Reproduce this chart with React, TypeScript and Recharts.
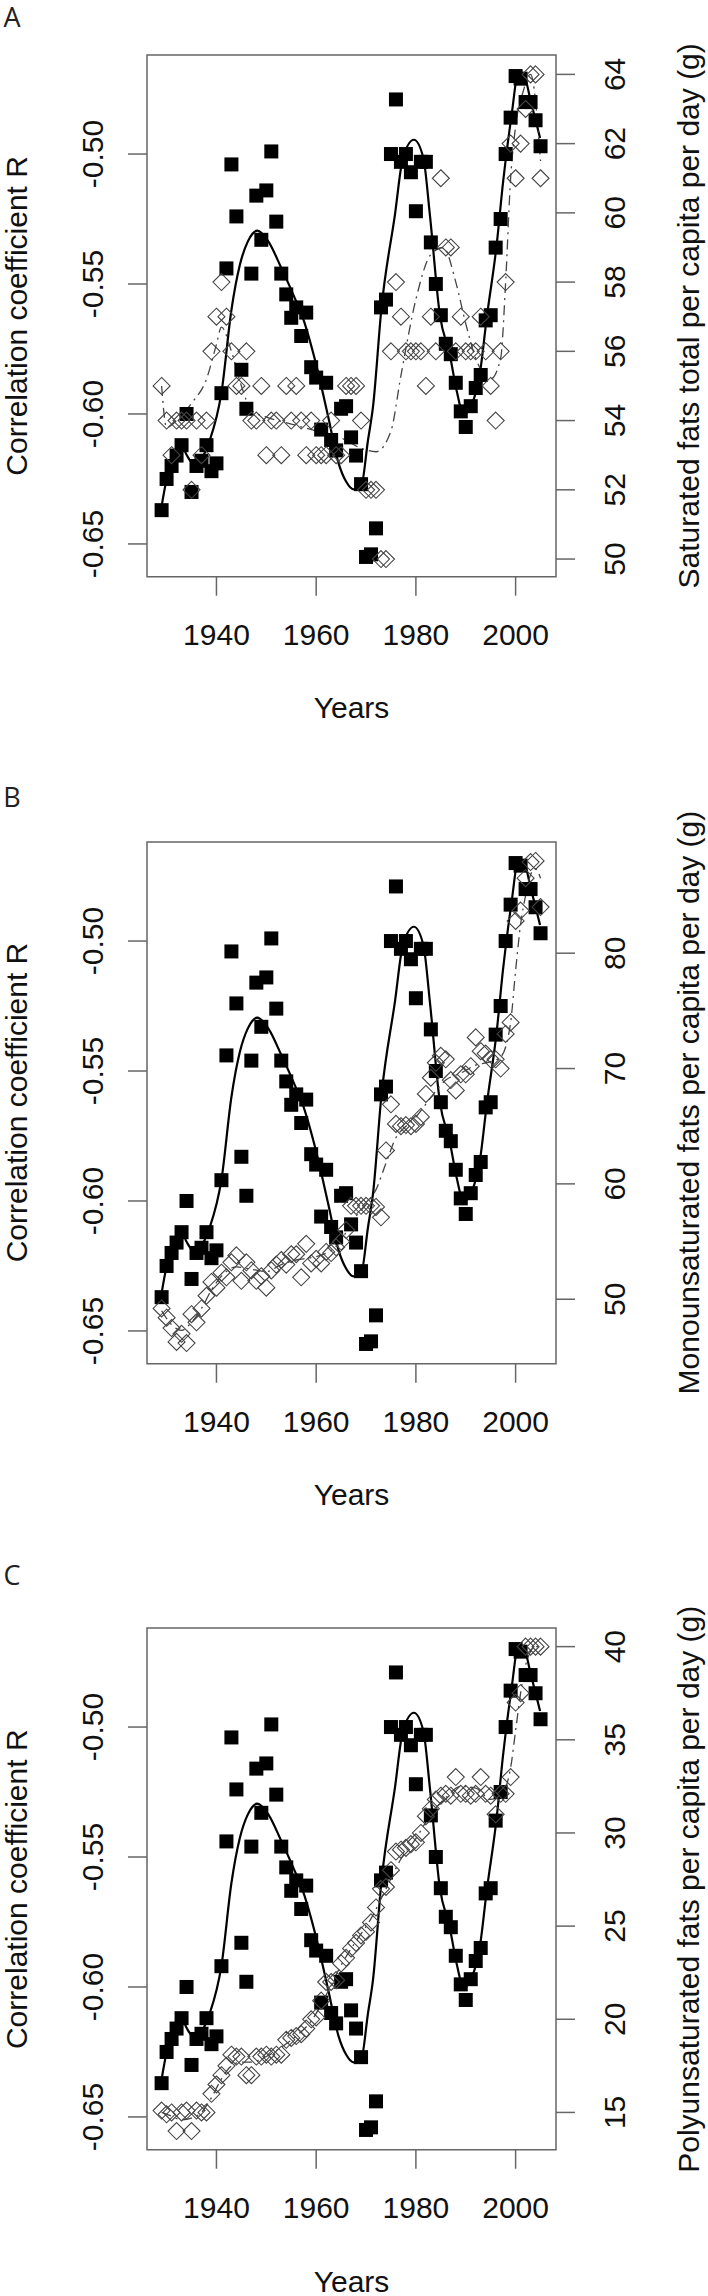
import React from "react";
import { ComposedChart, Scatter, Line, XAxis, YAxis, ReferenceArea } from "recharts";

// years of the annual series (same for all three panels)
const YEARS = [
    1929, 1930, 1931, 1932, 1933, 1934, 1935, 1936, 1937, 1938,
    1939, 1940, 1941, 1942, 1943, 1944, 1945, 1946, 1947, 1948,
    1949, 1950, 1951, 1952, 1953, 1954, 1955, 1956, 1957, 1958,
    1959, 1960, 1961, 1962, 1963, 1964, 1965, 1966, 1967, 1968,
    1969, 1970, 1971, 1972, 1973, 1974, 1975, 1976, 1977, 1978,
    1979, 1980, 1981, 1982, 1983, 1984, 1985, 1986, 1987, 1988,
    1989, 1990, 1991, 1992, 1993, 1994, 1995, 1996, 1997, 1998,
    1999, 2000, 2001, 2002, 2003, 2004, 2005,
];

// correlation coefficient R (black squares)
const CORR_R = [
    -0.637, -0.625, -0.62, -0.616, -0.612, -0.6, -0.63, -0.62, -0.618, -0.612,
    -0.622, -0.619, -0.592, -0.544, -0.504, -0.524, -0.583, -0.598, -0.546, -0.516,
    -0.533, -0.514, -0.499, -0.526, -0.546, -0.554, -0.563, -0.559, -0.57, -0.561,
    -0.582, -0.586, -0.606, -0.588, -0.61, -0.614, -0.598, -0.597, -0.609, -0.616,
    -0.627, -0.655, -0.654, -0.644, -0.559, -0.556, -0.5, -0.479, -0.503, -0.5,
    -0.507, -0.522, -0.503, -0.503, -0.534, -0.55, -0.562, -0.573, -0.577, -0.588,
    -0.599, -0.605, -0.597, -0.59, -0.585, -0.564, -0.562, -0.536, -0.525, -0.5,
    -0.486, -0.47, -0.471, -0.48, -0.48, -0.487, -0.497,
];

// fitted curve of R (solid line)
const R_FIT_YEARS = [
    1929, 1930, 1931, 1933, 1934, 1935.3, 1937, 1938.7, 1941, 1943,
    1944.7, 1946.3, 1948.2, 1950.4, 1953, 1956, 1957.1, 1960, 1962.4, 1964.5,
    1966, 1967.5, 1969, 1970.4, 1971.4, 1973.1, 1975.8, 1977.4, 1979.6, 1981.5,
    1982.8, 1984.8, 1986.8, 1988.2, 1989.6, 1991.2, 1992.8, 1994.2, 1996.2, 1997.5,
    1999.2, 2000.5, 2001.5, 2003.2, 2004.9,
];
const R_FIT = [
    -0.6355, -0.6253, -0.6202, -0.6119, -0.6157, -0.6189, -0.617, -0.6099, -0.5918, -0.56,
    -0.5426, -0.5336, -0.5295, -0.5336, -0.5438, -0.5567, -0.5618, -0.581, -0.601, -0.619,
    -0.626, -0.629, -0.628, -0.61, -0.5972, -0.5592, -0.5233, -0.5015, -0.4945, -0.5015,
    -0.5233, -0.5618, -0.5772, -0.5913, -0.6002, -0.5964, -0.5849, -0.5631, -0.5349, -0.5105,
    -0.4849, -0.4695, -0.4695, -0.481, -0.4938,
];

// panel A: saturated fats (g)
const SAT_FAT = [
    55, 54, 53, 54, 54, 54, 52, 54, 53, 54,
    56, 57, 58, 57, 56, 55, 55, 56, 54, 54,
    55, 53, 54, 54, 53, 55, 54, 55, 54, 53,
    54, 53, 53, 53, 54, 53, 53, 55, 55, 55,
    54, 52, 52, 52, 50, 50, 56, 58, 57, 56,
    56, 56, 56, 55, 57, 56, 61, 59, 59, 56,
    57, 56, 56, 56, 57, 56, 55, 54, 56, 58,
    62, 61, 62, 63, 64, 64, 61,
];
const SAT_FIT_YEARS = [
    1929, 1930, 1932, 1935, 1938, 1940, 1941, 1943, 1945, 1947,
    1950, 1955, 1960, 1965, 1969, 1972, 1975, 1977, 1980, 1983,
    1985.5, 1988, 1990, 1992, 1995, 1997, 1998, 1999, 2000, 2001.5,
    2003, 2005,
];
const SAT_FIT = [
    55, 53.8, 54, 54.5, 55.2, 56.2, 56.7, 56, 55, 54.3,
    54.1, 53.9, 53.7, 53.5, 53.2, 53.1, 53.7, 55.3, 57.5, 58.8,
    59, 58, 56.8, 55.8, 55.2, 55.8, 58, 61, 62.5, 63.5,
    64, 61.5,
];

// panel B: monounsaturated fats (g)
const MONO_FAT = [
    49.2, 48.4, 47.5, 46.3, 47, 46.2, 48.7, 48, 49.2, 50.3,
    51.5, 51, 52.3, 51.9, 53.2, 53.8, 51.6, 53.2, 52.5, 51.6,
    52, 51, 52.5, 53, 53.4, 53, 53.9, 53.9, 51.9, 54.8,
    53.1, 53.5, 53.1, 54.1, 54, 54.5, 55, 56, 58.1, 58.1,
    58.1, 58.1, 58.1, 58, 57.1, 62.9, 66.9, 65.2, 65, 65.1,
    65, 65.2, 65.8, 67.8, 69.2, 70.5, 71.1, 70.8, 69, 68.1,
    69.5, 69.5, 70.2, 72.7, 71.5, 71.3, 70.8, 70.8, 70, 73,
    74, 82.8, 83.7, 86.5, 87.9, 88, 84,
];
const MONO_FIT_YEARS = [
    1929, 1931, 1933, 1935, 1937, 1939, 1941, 1944, 1947, 1950,
    1953, 1956, 1959, 1962, 1964, 1966, 1968, 1970, 1972, 1974,
    1976, 1978, 1980, 1983, 1986, 1989, 1992, 1995, 1997, 1999,
    2000, 2001, 2002, 2003, 2004, 2005,
];
const MONO_FIT = [
    49, 47.8, 47.3, 48, 49.2, 50.8, 52, 52.8, 52.6, 52.4,
    53, 53.4, 53.6, 54, 54.6, 55.8, 57.2, 58.2, 59.5, 61.8,
    64, 65, 65.8, 67.5, 69, 69.6, 70.3, 70.6, 71, 74,
    78.5, 82.5, 85, 86.8, 87.3, 86.5,
];

// panel C: polyunsaturated fats (g)
const POLY_FAT = [
    15.1, 14.9, 15, 14, 15, 15.1, 14, 15.1, 15, 15,
    16, 16.5, 17, 17.5, 18.1, 18, 18, 17, 17, 18,
    18, 18.1, 18, 18.1, 18.1, 18.9, 19, 19.1, 19.2, 19.5,
    20, 20.1, 21, 22, 22, 22.1, 23, 23.3, 23.8, 24.1,
    24.5, 24.7, 25.2, 26, 27, 27.1, 28, 29, 29.1, 29.2,
    29.4, 29.5, 30, 30.9, 31.3, 31.8, 32, 32.1, 32, 33,
    32.1, 32.1, 32, 32.1, 33, 32.1, 32, 31, 32.1, 32.1,
    33, 37, 37.5, 40, 40, 40, 40,
];
const POLY_FIT_YEARS = [
    1929, 1931, 1933, 1935, 1937, 1939, 1941, 1943, 1945, 1947,
    1950, 1953, 1956, 1959, 1962, 1965, 1968, 1971, 1974, 1977,
    1980, 1983, 1986, 1989, 1992, 1995, 1997, 1999, 2000, 2001,
    2002, 2004, 2005,
];
const POLY_FIT = [
    15, 14.8, 14.6, 14.7, 15, 15.8, 16.8, 17.5, 17.7, 17.7,
    18, 18.5, 19.1, 19.9, 21.3, 22.9, 24.2, 25.4, 27, 28.6,
    29.7, 31, 31.9, 32.5, 32.4, 31.8, 32, 33.5, 35.5, 37.5,
    39, 40, 40,
];

const YEAR_TICKS = [1940, 1960, 1980, 2000];
const R_TICKS = [-0.65, -0.6, -0.55, -0.5];

const FONT = "'Liberation Sans', Arial, sans-serif";
const PANEL_STEP = 786.7;
const BOX_TOP = 55;
const BOX_H = 521.7;
const BOX_LEFT = 147;
const BOX_RIGHT = 556;
const CHART_W = 708;
const CHART_H = 787;
const X_DOMAIN = [1926.07, 2008.1];
const R_DOMAIN = [-0.6626, -0.4619];

const PANELS = [
    {
        letter: "A",
        letterY: 27,
        title: "Saturated fats total per capita per day (g)",
        values: SAT_FAT,
        fitYears: SAT_FIT_YEARS,
        fit: SAT_FIT,
        domain: [49.49, 64.56],
        ticks: [50, 52, 54, 56, 58, 60, 62, 64],
    },
    {
        letter: "B",
        letterY: 20,
        title: "Monounsaturated fats per capita per day (g)",
        values: MONO_FAT,
        fitYears: MONO_FIT_YEARS,
        fit: MONO_FIT,
        domain: [44.41, 89.64],
        ticks: [50, 60, 70, 80],
    },
    {
        letter: "C",
        letterY: 12,
        title: "Polyunsaturated fats per capita per day (g)",
        values: POLY_FAT,
        fitYears: POLY_FIT_YEARS,
        fit: POLY_FIT,
        domain: [13.0, 41.0],
        ticks: [15, 20, 25, 30, 35, 40],
    },
];

const rPoints = YEARS.map((year, i) => ({ year, r: CORR_R[i] }));
const rFitPoints = R_FIT_YEARS.map((year, i) => ({ year, r: R_FIT[i] }));

const Square = (props: any) => {
    const { cx, cy } = props;
    if (cx == null || cy == null) return null;
    return <rect x={cx - 7} y={cy - 7} width={14} height={14} fill="#000" />;
};

const Diamond = (props: any) => {
    const { cx, cy } = props;
    if (cx == null || cy == null) return null;
    const h = 8.5;
    return (
        <polygon
            points={`${cx},${cy - h} ${cx + h},${cy} ${cx},${cy + h} ${cx - h},${cy}`}
            fill="none"
            stroke="#444"
            strokeWidth={1.1}
        />
    );
};

const textStyle = { fontFamily: FONT, fontSize: 30, fill: "#111" };

const LeftTick = (props: any) => {
    const { y, payload } = props;
    return (
        <text transform={`translate(92, ${y}) rotate(-90)`} textAnchor="middle" dy="0.35em" {...textStyle}>
            {Number(payload.value).toFixed(2)}
        </text>
    );
};

const RightTick = (props: any) => {
    const { y, payload } = props;
    return (
        <text transform={`translate(614, ${y}) rotate(-90)`} textAnchor="middle" dy="0.35em" {...textStyle}>
            {payload.value}
        </text>
    );
};

const BottomTick = (props: any) => {
    const { x, payload } = props;
    return (
        <text x={x} y={BOX_TOP + BOX_H + 68.7} textAnchor="middle" {...textStyle}>
            {payload.value}
        </text>
    );
};

function Panel({ panel }: { panel: any }) {
    const fatPoints = YEARS.map((year, i) => ({ year, g: panel.values[i] }));
    const fitPoints = panel.fitYears.map((year: number, i: number) => ({ year, g: panel.fit[i] }));

    return (
        <ComposedChart width={CHART_W} height={CHART_H} margin={{ top: BOX_TOP, right: 0, bottom: 0, left: 0 }}>
            <XAxis
                type="number"
                dataKey="year"
                domain={X_DOMAIN}
                allowDataOverflow
                ticks={YEAR_TICKS}
                interval={0}
                height={CHART_H - BOX_TOP - BOX_H}
                axisLine={false}
                tickSize={19}
                tickLine={{ stroke: "#666", strokeWidth: 1.5 }}
                tick={BottomTick}
            />
            <YAxis
                yAxisId="left"
                type="number"
                domain={R_DOMAIN}
                allowDataOverflow
                ticks={R_TICKS}
                interval={0}
                width={BOX_LEFT}
                axisLine={false}
                tickSize={19}
                tickLine={{ stroke: "#666", strokeWidth: 1.5 }}
                tick={LeftTick}
            />
            <YAxis
                yAxisId="right"
                orientation="right"
                type="number"
                domain={panel.domain}
                allowDataOverflow
                ticks={panel.ticks}
                interval={0}
                width={CHART_W - BOX_RIGHT}
                axisLine={false}
                tickSize={19}
                tickLine={{ stroke: "#666", strokeWidth: 1.5 }}
                tick={RightTick}
            />
            <ReferenceArea
                yAxisId="left"
                x1={X_DOMAIN[0]}
                x2={X_DOMAIN[1]}
                y1={R_DOMAIN[0]}
                y2={R_DOMAIN[1]}
                fill="none"
                stroke="#666"
                strokeWidth={1.5}
                ifOverflow="visible"
            />
            <Scatter yAxisId="left" data={rPoints} dataKey="r" shape={Square} isAnimationActive={false} />
            <Line
                yAxisId="left"
                data={rFitPoints}
                dataKey="r"
                type="monotone"
                stroke="#000"
                strokeWidth={2.2}
                dot={false}
                activeDot={false}
                isAnimationActive={false}
            />
            <Scatter yAxisId="right" data={fatPoints} dataKey="g" shape={Diamond} isAnimationActive={false} />
            <Line
                yAxisId="right"
                data={fitPoints}
                dataKey="g"
                type="monotone"
                stroke="#444"
                strokeWidth={1.3}
                strokeDasharray="10 5 2 5"
                dot={false}
                activeDot={false}
                isAnimationActive={false}
            />
        </ComposedChart>
    );
}

export default function App() {
    const midY = BOX_TOP + BOX_H / 2;
    const midX = (BOX_LEFT + BOX_RIGHT) / 2;
    return (
        <div style={{ position: "absolute", left: 0, top: 0, width: 708, height: 2296, background: "#fff" }}>
            {PANELS.map((p, i) => (
                <div key={p.letter} style={{ position: "absolute", left: 0, top: i * PANEL_STEP }}>
                    <Panel panel={p} />
                </div>
            ))}
            {/* titles and panel letters */}
            <svg
                width={708}
                height={2296}
                style={{ position: "absolute", left: 0, top: 0, pointerEvents: "none", overflow: "visible" }}
            >
                {PANELS.map((p, i) => {
                    const top = i * PANEL_STEP;
                    return (
                        <g key={p.letter}>
                            <text
                                x={12}
                                y={top + p.letterY}
                                textAnchor="middle"
                                fontFamily="'Open Sans', sans-serif"
                                fontSize={27}
                                fill="#222"
                            >
                                {p.letter}
                            </text>
                            <text
                                transform={`translate(16, ${top + midY}) rotate(-90)`}
                                textAnchor="middle"
                                dy="0.35em"
                                {...textStyle}
                            >
                                Correlation coefficient R
                            </text>
                            <text
                                transform={`translate(688, ${top + midY}) rotate(-90)`}
                                textAnchor="middle"
                                dy="0.35em"
                                {...textStyle}
                            >
                                {p.title}
                            </text>
                            <text x={midX} y={top + BOX_TOP + BOX_H + 141.7} textAnchor="middle" {...textStyle}>
                                Years
                            </text>
                        </g>
                    );
                })}
            </svg>
        </div>
    );
}
